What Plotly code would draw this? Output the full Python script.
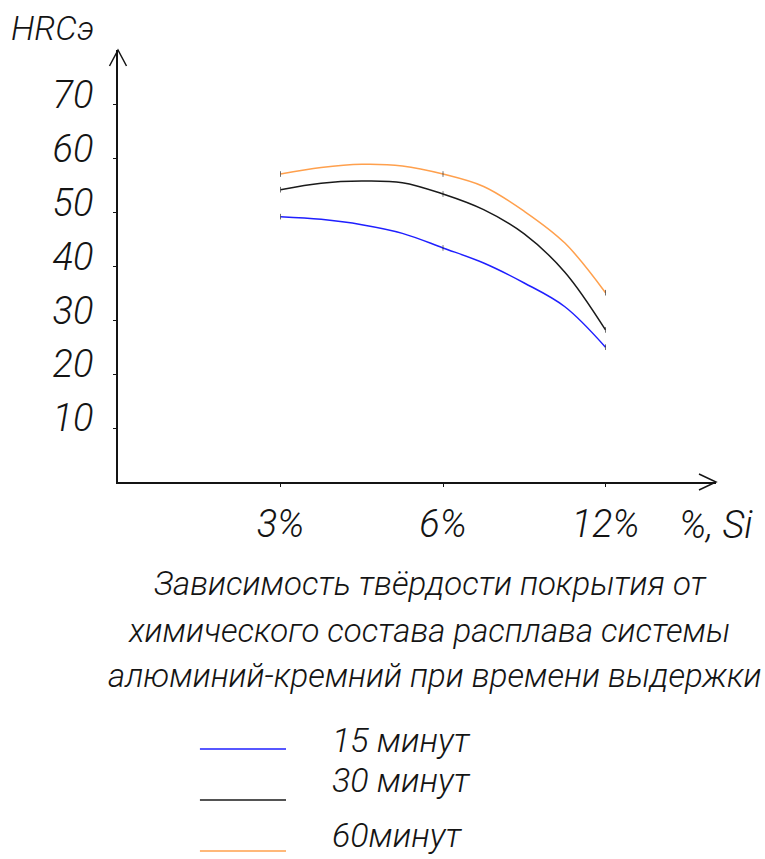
import plotly.graph_objects as go

# Silicon content categories (positions 1, 2, 3 on the x axis)
x_tickvals = [1, 2, 3]
x_ticktext = ["3%", "6%", "12%"]
y_tickvals = [10, 20, 30, 40, 50, 60, 70]

# Curve points: category positions with intermediate points along each curve
x_points = [1, 1.25, 1.5, 1.75, 2, 2.25, 2.5, 2.75, 3]
hrc_15min = [49.2, 48.7, 47.7, 46.1, 43.4, 40.6, 36.9, 32.5, 25.0]
hrc_30min = [54.2, 55.4, 55.8, 55.5, 53.4, 50.5, 46.0, 38.9, 28.2]
hrc_60min = [57.1, 58.3, 58.9, 58.6, 57.1, 54.8, 50.2, 44.3, 35.1]

series_names = ["15 минут", "30 минут", "60минут"]
series_values = [hrc_15min, hrc_30min, hrc_60min]
series_colors = ["#1f1fff", "#1a1a1a", "#ffa04d"]

FONT = "Roboto, sans-serif"
INK = "#141414"

fig = go.Figure()
for name, vals, col in zip(series_names, series_values, series_colors):
    fig.add_trace(go.Scatter(
        x=x_points, y=vals, mode="lines+markers", name=name,
        line=dict(color=col, width=1.5, shape="spline", smoothing=1.0),
        marker=dict(symbol="line-ns", size=[4 if float(v).is_integer() else 0 for v in x_points],
                    line=dict(color="#333333", width=1)),
        hoverinfo="skip", showlegend=False,
    ))

# Axis arrow heads (open chevrons) at the ends of both axes
aw = 598.0
ah = 432.0
fig.add_shape(type="path", xref="paper", yref="paper",
              path=f"M {-8.5/aw},{1-16/ah} L 0,1 L {8.5/aw},{1-16/ah}",
              line=dict(color=INK, width=1.5))
fig.add_shape(type="path", xref="paper", yref="paper",
              path=f"M {1-17/aw},{8/ah} L 1,0 L {1-17/aw},{-8/ah}",
              line=dict(color=INK, width=1.5))

annotations = []
tfont = dict(family=FONT, size=33, color=INK, style="italic", weight=300)
lfont = dict(family=FONT, size=34, color=INK, style="italic", weight=300)
nfont = dict(family=FONT, size=38, color=INK, style="italic", weight=300)

annotations.append(dict(text="HRCэ", xref="paper", yref="paper", x=-0.11, y=1.051,
                        xanchor="center", yanchor="middle", showarrow=False, font=lfont))
annotations.append(dict(text="%, Si", xref="paper", yref="paper", x=1.0, y=-0.10,
                        xanchor="center", yanchor="middle", showarrow=False, font=nfont))

title_lines = [
    ("Зависимость твёрдости покрытия от", 0.522, -0.234),
    ("химического состава расплава системы", 0.520, -0.343),
    ("алюминий-кремний при времени выдержки", 0.530, -0.449),
]
for txt, xp, yp in title_lines:
    annotations.append(dict(text=txt, xref="paper", yref="paper", x=xp, y=yp,
                            xanchor="center", yanchor="middle", showarrow=False, font=tfont))

# Hand-drawn legend below the caption
legend_text_y = [-0.597, -0.690, -0.817]
legend_line_y = [-0.618, -0.736, -0.854]
for name, col, ty, ly in zip(series_names, series_colors, legend_text_y, legend_line_y):
    annotations.append(dict(text=name, xref="paper", yref="paper", x=0.3545, y=ty,
                            xanchor="left", yanchor="middle", showarrow=False, font=lfont))
    fig.add_shape(type="line", xref="paper", yref="paper", x0=0.137, x1=0.281, y0=ly, y1=ly,
                  line=dict(color=col, width=1.5))

fig.update_layout(
    width=765, height=859,
    margin=dict(l=118, r=49, t=50, b=377, pad=0),
    paper_bgcolor="white", plot_bgcolor="white",
    showlegend=False,
    annotations=annotations,
    xaxis=dict(range=[0, 3.68], showgrid=False, zeroline=False,
               showline=True, linecolor=INK, linewidth=2,
               tickmode="array", tickvals=x_tickvals, ticktext=x_ticktext,
               ticks="outside", ticklen=3, tickcolor=INK, tickwidth=1,
               ticklabelstandoff=4, tickfont=nfont),
    yaxis=dict(range=[0, 80.1], showgrid=False, zeroline=False,
               showline=True, linecolor=INK, linewidth=2,
               tickmode="array", tickvals=y_tickvals,
               ticks="outside", ticklen=3, tickcolor=INK, tickwidth=1,
               ticklabelstandoff=12, ticklabelshift=-10, tickfont=nfont),
)

fig.write_html("out.html")
